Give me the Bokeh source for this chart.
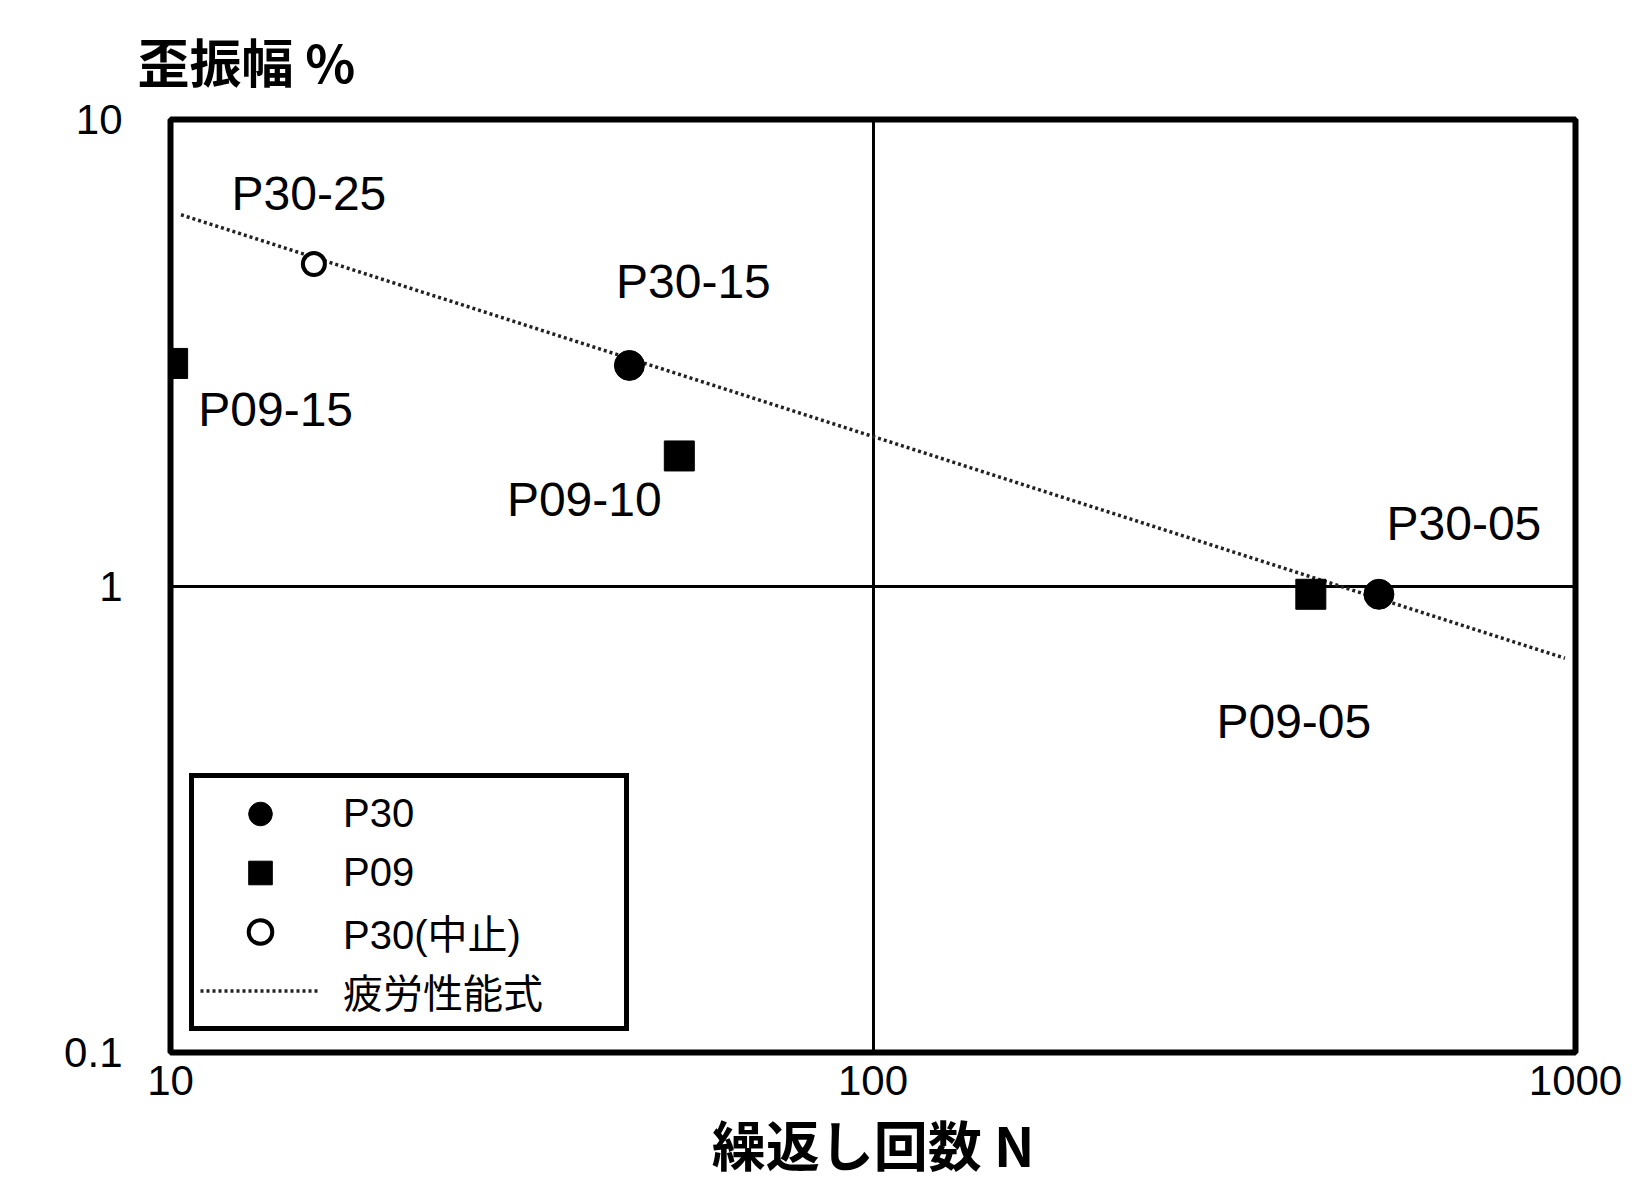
from bokeh.plotting import figure
from bokeh.models import Range1d, FixedTicker, Legend, LegendItem, ColumnDataSource
from bokeh.embed import file_html
from bokeh.resources import INLINE
from bokeh.core.properties import value

# ---------------- data ----------------
p30_N = [45, 525]
p30_eps = [2.97, 0.96]
p30_names = ["P30-15", "P30-05"]

p09_N = [10.07, 53, 420]
p09_eps = [3.0, 1.9, 0.96]
p09_names = ["P09-15", "P09-10", "P09-05"]

p30s_N = [16]
p30s_eps = [4.9]
p30s_names = ["P30-25"]

fatigue_N = [10.35, 966]
fatigue_eps = [6.25, 0.70]

x_ticks = [10, 100, 1000]
x_tick_labels = ["10", "100", "1000"]
y_ticks = [0.1, 1, 10]
y_tick_labels = ["0.1", "1", "10"]

legend_labels = ["P30", "P09", "P30(中止)", "疲労性能式"]
x_title = "繰返し回数 N"
y_title = "歪振幅 %"

# label placement offsets in pixels (styling, not data)
label_dx = {"P30-25": -5, "P30-15": 64, "P09-15": 103, "P09-10": -95, "P09-05": -17, "P30-05": 85}
label_dy = {"P30-25": -71, "P30-15": -84, "P09-15": 46, "P09-10": 44, "P09-05": 127, "P30-05": -71}

LATIN = "Liberation Sans"
CJK = "Noto Sans CJK JP"

p = figure(width=1650, height=1187, x_axis_type="log", y_axis_type="log",
           x_range=Range1d(10, 1000), y_range=Range1d(0.1, 10),
           output_backend="svg", toolbar_location=None,
           min_border_left=170, min_border_right=75, min_border_top=119, min_border_bottom=135)
p.background_fill_color = "white"
p.border_fill_color = "white"
p.outline_line_color = "black"
p.outline_line_width = 6
p.outline_line_alpha = 1

# y-axis title sits above the frame, left aligned
p.title.text = y_title
p.title.align = "left"
p.title.vertical_align = "top"
p.title.offset = -33
p.title.standoff = 40
p.title.text_font = CJK
p.title.text_font_size = "52px"
p.title.text_font_style = "bold"
p.title.text_color = "black"

p.xaxis.ticker = FixedTicker(ticks=x_ticks)
p.yaxis.ticker = FixedTicker(ticks=y_ticks)
p.xgrid.ticker = FixedTicker(ticks=x_ticks)
p.ygrid.ticker = FixedTicker(ticks=y_ticks)
p.xaxis.major_label_overrides = dict(zip(x_ticks, x_tick_labels))
p.yaxis.major_label_overrides = dict(zip(y_ticks, y_tick_labels))
for ax in p.axis:
    ax.axis_line_color = None
    ax.major_tick_line_color = None
    ax.minor_tick_line_color = None
    ax.major_tick_in = 0
    ax.major_tick_out = 0
    ax.minor_tick_in = 0
    ax.minor_tick_out = 0
    ax.major_label_text_font = LATIN
    ax.major_label_text_font_size = "42px"
    ax.major_label_text_color = "black"
p.xaxis.major_label_standoff = 13
p.yaxis.major_label_standoff = 48

p.xaxis.axis_label = x_title
p.xaxis.axis_label_text_font = CJK
p.xaxis.axis_label_text_font_size = "54px"
p.xaxis.axis_label_text_font_style = "bold"
p.xaxis.axis_label_text_color = "black"
p.xaxis.axis_label_standoff = 6

for g in (p.xgrid, p.ygrid):
    g.grid_line_color = "black"
    g.grid_line_width = 3
    g.grid_line_alpha = 1

r_fat = p.line(fatigue_N, fatigue_eps, line_dash="3 3", line_width=3.5, line_color="#222222")
r_p30 = p.scatter(p30_N, p30_eps, marker="circle", size=30, fill_color="black", line_color="black")
r_p09 = p.scatter(p09_N, p09_eps, marker="square", size=30, fill_color="black", line_color="black")
r_p30s = p.scatter(p30s_N, p30s_eps, marker="circle", size=22, fill_color="white",
                   line_color="black", line_width=4)

names = p30s_names + p30_names + p09_names
src = ColumnDataSource(dict(
    x=p30s_N + p30_N + p09_N,
    y=p30s_eps + p30_eps + p09_eps,
    text=names,
    dx=[label_dx[n] for n in names],
    dy=[label_dy[n] for n in names],
))
p.text(x="x", y="y", text="text", x_offset="dx", y_offset="dy", source=src,
       text_align="center", text_baseline="middle", text_font=value(LATIN),
       text_font_size="48px", text_color="black")

legend = Legend(items=[
    LegendItem(label=legend_labels[0], renderers=[r_p30]),
    LegendItem(label=legend_labels[1], renderers=[r_p09]),
    LegendItem(label=legend_labels[2], renderers=[r_p30s]),
    LegendItem(label=legend_labels[3], renderers=[r_fat]),
], location=(19, 21))
legend.border_line_color = "black"
legend.border_line_width = 5
legend.border_line_alpha = 1
legend.background_fill_color = "white"
legend.background_fill_alpha = 1
legend.padding = 6
legend.spacing = 0
legend.margin = 0
legend.glyph_width = 120
legend.glyph_height = 59
legend.label_height = 59
legend.label_standoff = 23
legend.label_width = 275
legend.label_text_font = "Liberation Sans, Noto Sans CJK JP"
legend.label_text_font_size = "40px"
legend.label_text_color = "black"
p.add_layout(legend)

open("out.html", "w").write(file_html(p, INLINE))
